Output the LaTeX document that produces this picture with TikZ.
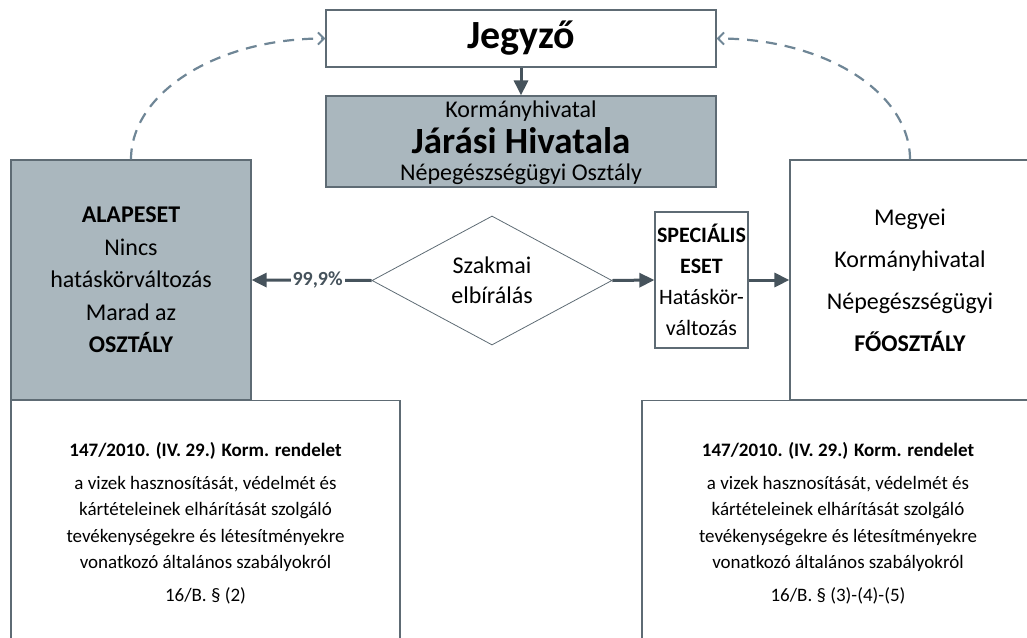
\documentclass[tikz,border=0pt]{standalone}
\usepackage{fontspec}
\setmainfont{Carlito}
\usetikzlibrary{shapes.geometric,arrows.meta}
\definecolor{boxline}{HTML}{5E6B74}
\definecolor{boxgray}{HTML}{AAB7BE}
\definecolor{arrowdark}{HTML}{46535C}
\definecolor{dashblue}{HTML}{6F8696}

\begin{document}
\begin{tikzpicture}
        [x=1pt,y=-1pt,
         box/.style={draw=boxline,line width=1.2pt,inner sep=0pt,align=center},
         flow/.style={draw=arrowdark,line width=3pt,-{Triangle[length=15pt,width=14pt]}},
         back/.style={draw=dashblue,line width=2.2pt,dash pattern=on 11pt off 8pt,
           -{Straight Barb[length=6pt,width=12pt,line width=2pt]}}]
        \clip (0,0) rectangle (1027,637);

        % top: Jegyzo and the Jarasi Hivatal
        \node[box,fill=white,minimum width=390pt,minimum height=57pt,
          font=\fontsize{40}{48}\selectfont\bfseries] (jegyzo) at (521,38.5) {Jegyző};
        \node[box,fill=boxgray,minimum width=390pt,minimum height=91pt,
          font={\fontsize{24}{26}\selectfont\lineskiplimit=-40pt\relax}] (jaras) at (521,141.5)
          {\rule{0pt}{19pt}Kormányhivatal\\[10pt]{\fontsize{37}{26}\selectfont\bfseries Járási Hivatala}\\[1pt]Népegészségügyi Osztály};

        % middle row
        \node[box,fill=boxgray,minimum width=240pt,minimum height=240pt,
          font=\fontsize{24}{32.5}\selectfont] (alap) at (131,280)
          {\textbf{ALAPESET}\\Nincs\\hatáskörváltozás\\Marad az\\\textbf{OSZTÁLY}};
        \node[box,draw=boxline,shape=diamond,minimum width=240pt,minimum height=129pt,
          line width=0.8pt,font=\fontsize{24}{30}\selectfont] (szakmai) at (492,280.5)
          {Szakmai\\elbírálás};
        \node[box,minimum width=93pt,minimum height=136pt,
          font=\fontsize{22}{31}\selectfont] (spec) at (701.5,280)
          {\textbf{SPECIÁLIS}\\\textbf{ESET}\\Hatáskör-\\változás};
        \node[box,minimum width=240pt,minimum height=240pt,
          font=\fontsize{24}{42}\selectfont] (fo) at (910,280)
          {Megyei\\Kormányhivatal\\Népegészségügyi\\\textbf{FŐOSZTÁLY}};

        % bottom: the Korm. rendelet
        \node[box,anchor=north,minimum width=389pt,minimum height=245pt,
          font=\fontsize{19}{26.5}\selectfont] (rendA) at (205.5,400)
          {\textbf{147/2010. (IV. 29.) Korm. rendelet}\\[6pt]a vizek hasznosítását, védelmét és\\kártételeinek elhárítását szolgáló\\tevékenységekre és létesítményekre\\vonatkozó általános szabályokról\\[6pt]16/B. § (2)};
        \node[box,anchor=north,minimum width=392pt,minimum height=245pt,
          font=\fontsize{19}{26.5}\selectfont] (rendB) at (838,400)
          {\textbf{147/2010. (IV. 29.) Korm. rendelet}\\[6pt]a vizek hasznosítását, védelmét és\\kártételeinek elhárítását szolgáló\\tevékenységekre és létesítményekre\\vonatkozó általános szabályokról\\[6pt]16/B. § (3)-(4)-(5)};

        % connectors
        \draw[flow] (jegyzo.south) -- (jaras.north);
        \draw[flow] (szakmai.west) -- (alap.east)
          node[pos=0.45,fill=white,inner sep=2pt,text=arrowdark,
            font=\fontsize{20}{20}\selectfont\bfseries] (szaz) {99,9\%};
        \draw[flow] (szakmai.east) -- (spec.west);
        \draw[flow] (spec.east) -- (fo.west);

        \draw[back] (alap.north) .. controls +(0,-67) and +(-108,0) .. (jegyzo.west);
        \draw[back] (fo.north) .. controls +(0,-67) and +(108,0) .. (jegyzo.east);
      \end{tikzpicture}
\end{document}
